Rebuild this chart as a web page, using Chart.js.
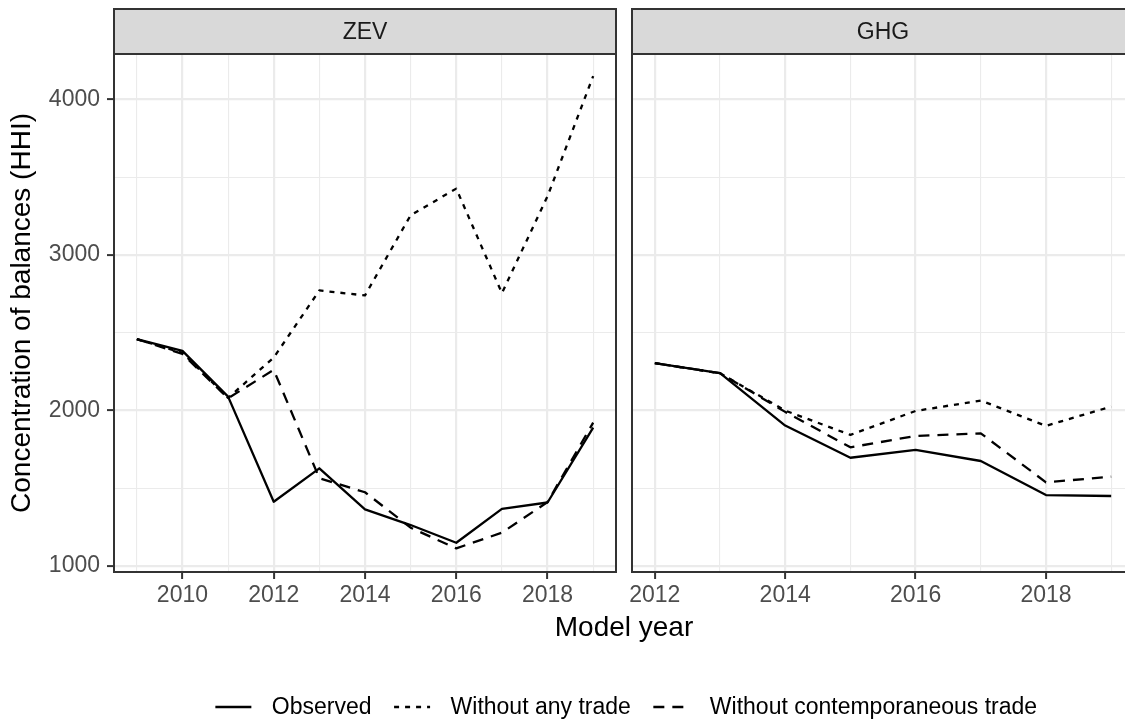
<!DOCTYPE html>
<html>
<head>
<meta charset="utf-8">
<script src="https://cdn.jsdelivr.net/npm/chart.js@4.4.1/dist/chart.umd.min.js"></script>
<style>
  html, body { margin: 0; padding: 0; background: #ffffff; overflow: hidden; }
  #wrap { position: relative; width: 1125px; height: 726px; overflow: hidden; background: #ffffff; }
  canvas { position: absolute; top: 0; }
  #zevChart { left: 0; }
  #ghgChart { left: 620px; }
</style>
</head>
<body>
<div id="wrap">
  <canvas id="zevChart" width="1125" height="726"></canvas>
  <canvas id="ghgChart" width="525" height="726"></canvas>
</div>
<script>
// ---- data -------------------------------------------------------------
const seriesNames = ['Observed', 'Without any trade', 'Without contemporaneous trade'];

const zevYears        = [2009, 2010, 2011, 2012, 2013, 2014, 2015, 2016, 2017, 2018, 2019];
const zevObserved     = [2458, 2382, 2088, 1412, 1627, 1363, 1262, 1148, 1366, 1407, 1889];
const zevNoTrade      = [2458, 2370, 2080, 2339, 2771, 2739, 3255, 3426, 2754, 3377, 4150];
const zevNoContemp    = [2458, 2363, 2078, 2260, 1563, 1473, 1245, 1112, 1213, 1410, 1921];

const ghgYears        = [2012, 2013, 2014, 2015, 2016, 2017, 2018, 2019];
const ghgObserved     = [2303, 2239, 1902, 1695, 1745, 1674, 1455, 1449];
const ghgNoTrade      = [2303, 2239, 1998, 1842, 1996, 2063, 1900, 2024];
const ghgNoContemp    = [2303, 2239, 1990, 1762, 1835, 1852, 1537, 1573];

// axis breaks
const yGridValues     = [1000, 1500, 2000, 2500, 3000, 3500, 4000];
const yTickLabels     = [1000, 2000, 3000, 4000];
const zevGridYears    = [2009, 2010, 2011, 2012, 2013, 2014, 2015, 2016, 2017, 2018, 2019];
const zevTickYears    = [2010, 2012, 2014, 2016, 2018];
const ghgGridYears    = [2012, 2013, 2014, 2015, 2016, 2017, 2018, 2019];
const ghgTickYears    = [2012, 2014, 2016, 2018];

// ---- styling ----------------------------------------------------------
const FONT = "'Liberation Sans', Arial, Helvetica, sans-serif";
Chart.defaults.font.family = FONT;
Chart.defaults.animation = false;

const lineStyles = [
  { borderDash: [] },
  { borderDash: [5, 6] },
  { borderDash: [11, 8] }
];
const LINE_W = 2.3;
const MAJOR_W = 2.2, MINOR_W = 1.1;
const GRID_COLOR = '#EBEBEB';
const DARK = '#333333';

const Y_MIN = 960, Y_MAX = 4292;
const PANEL_TOP = 54, PANEL_BOTTOM = 572;
const ZEV_LEFT = 114, ZEV_RIGHT = 616;
const GHG_OFFSET = 620, GHG_LEFT = 632, GHG_RIGHT = 1134;
const CANVAS_H = 726;

function toPoints(xs, ys) { return xs.map((x, i) => ({ x: x, y: ys[i] })); }

function buildDatasets(xs, seriesList) {
  return seriesList.map((ys, i) => ({
    label: seriesNames[i],
    data: toPoints(xs, ys),
    borderColor: '#000000',
    backgroundColor: '#000000',
    borderWidth: LINE_W,
    borderDash: lineStyles[i].borderDash,
    borderCapStyle: 'butt',
    borderJoinStyle: 'round',
    pointRadius: 0,
    tension: 0,
    fill: false
  }));
}

function xScale(min, max, gridYears, tickYears) {
  return {
    type: 'linear',
    min: min, max: max,
    afterBuildTicks: s => { s.ticks = gridYears.map(v => ({ value: v })); },
    afterFit: s => { s.height = CANVAS_H - PANEL_BOTTOM; s.paddingLeft = 0; s.paddingRight = 0; },
    border: { display: false },
    grid: {
      color: GRID_COLOR,
      lineWidth: c => (c.tick && tickYears.includes(c.tick.value)) ? MAJOR_W : MINOR_W,
      drawTicks: true,
      tickLength: 7,
      tickWidth: 2,
      tickColor: c => (c.tick && tickYears.includes(c.tick.value)) ? DARK : 'rgba(0,0,0,0)'
    },
    ticks: {
      autoSkip: false, maxRotation: 0, minRotation: 0,
      padding: 3,
      color: '#4D4D4D',
      font: { size: 23, family: FONT },
      callback: v => tickYears.includes(v) ? String(v) : ''
    }
  };
}

function yScale(showLabels) {
  return {
    type: 'linear',
    min: Y_MIN, max: Y_MAX,
    afterBuildTicks: s => { s.ticks = yGridValues.map(v => ({ value: v })); },
    afterFit: s => { s.width = showLabels ? ZEV_LEFT : 0; s.paddingTop = 0; s.paddingBottom = 0; },
    border: { display: false },
    grid: {
      color: GRID_COLOR,
      lineWidth: c => (c.tick && yTickLabels.includes(c.tick.value)) ? MAJOR_W : MINOR_W,
      drawTicks: showLabels,
      tickLength: 7,
      tickWidth: 2,
      tickColor: c => (c.tick && yTickLabels.includes(c.tick.value)) ? DARK : 'rgba(0,0,0,0)'
    },
    ticks: {
      display: showLabels,
      padding: 7,
      color: '#4D4D4D',
      font: { size: 23, family: FONT },
      callback: v => yTickLabels.includes(v) ? String(v) : ''
    },
    title: {
      display: showLabels,
      text: 'Concentration of balances (HHI)',
      color: '#000000',
      font: { size: 28, family: FONT },
      padding: { top: 5, bottom: 0 }
    }
  };
}

// Facet strip above each panel plus the dark panel frame
const facetFrame = {
  id: 'facetFrame',
  afterDraw(chart, args, opts) {
    const { ctx, chartArea: a } = chart;
    ctx.save();
    const stripTop = 9, stripH = a.top - stripTop;
    ctx.fillStyle = '#D9D9D9';
    ctx.fillRect(a.left, stripTop, a.right - a.left, stripH);
    ctx.strokeStyle = DARK;
    ctx.lineWidth = 2;
    ctx.strokeRect(a.left, stripTop, a.right - a.left, stripH);
    ctx.fillStyle = '#1A1A1A';
    ctx.font = `23px ${FONT}`;
    ctx.textAlign = 'center';
    ctx.textBaseline = 'middle';
    ctx.fillText(opts.label, (a.left + a.right) / 2, stripTop + stripH / 2 + 1);
    ctx.strokeRect(a.left, a.top, a.right - a.left, a.bottom - a.top);
    ctx.restore();
  }
};

// Shared x title and legend under both panels
const figureText = {
  id: 'figureText',
  afterDraw(chart) {
    const { ctx } = chart;
    const centerX = (ZEV_LEFT + GHG_RIGHT) / 2;
    ctx.save();
    ctx.fillStyle = '#000000';
    ctx.font = `28px ${FONT}`;
    ctx.textAlign = 'center';
    ctx.textBaseline = 'alphabetic';
    ctx.fillText('Model year', centerX, 636);

    const KEY = 45, INSET = 4.5, GAP = 16, ITEM_GAP = 18, LEG_Y = 707;
    ctx.font = `23px ${FONT}`;
    const items = chart.data.datasets.map(d => ({ label: d.label, dash: d.borderDash, w: d.borderWidth }));
    const widths = items.map(it => ctx.measureText(it.label).width);
    const total = items.length * (KEY + GAP) + widths.reduce((s, w) => s + w, 0) + ITEM_GAP * (items.length - 1);
    let x = centerX - total / 2;
    ctx.textAlign = 'left';
    ctx.textBaseline = 'middle';
    items.forEach((it, i) => {
      ctx.beginPath();
      ctx.setLineDash(it.dash);
      ctx.lineWidth = it.w;
      ctx.lineCap = 'butt';
      ctx.strokeStyle = '#000000';
      ctx.moveTo(x + INSET, LEG_Y);
      ctx.lineTo(x + KEY - INSET, LEG_Y);
      ctx.stroke();
      ctx.setLineDash([]);
      ctx.fillStyle = '#000000';
      ctx.fillText(it.label, x + KEY + GAP, LEG_Y + 1);
      x += KEY + GAP + widths[i] + ITEM_GAP;
    });
    ctx.restore();
  }
};

const baseOptions = {
  responsive: false,
  maintainAspectRatio: false,
  animation: false,
  events: []
};

new Chart(document.getElementById('zevChart'), {
  type: 'line',
  data: { datasets: buildDatasets(zevYears, [zevObserved, zevNoTrade, zevNoContemp]) },
  options: Object.assign({}, baseOptions, {
    layout: { padding: { top: PANEL_TOP, left: 0, right: 1125 - ZEV_RIGHT, bottom: 0 } },
    scales: {
      x: xScale(2008.5, 2019.5, zevGridYears, zevTickYears),
      y: yScale(true)
    },
    plugins: { legend: { display: false }, tooltip: { enabled: false }, facetFrame: { label: 'ZEV' } }
  }),
  plugins: [facetFrame, figureText]
});

new Chart(document.getElementById('ghgChart'), {
  type: 'line',
  data: { datasets: buildDatasets(ghgYears, [ghgObserved, ghgNoTrade, ghgNoContemp]) },
  options: Object.assign({}, baseOptions, {
    layout: { padding: { top: PANEL_TOP, left: GHG_LEFT - GHG_OFFSET, right: 525 - (GHG_RIGHT - GHG_OFFSET), bottom: 0 } },
    scales: {
      x: xScale(2011.65, 2019.35, ghgGridYears, ghgTickYears),
      y: yScale(false)
    },
    plugins: { legend: { display: false }, tooltip: { enabled: false }, facetFrame: { label: 'GHG' } }
  }),
  plugins: [facetFrame]
});
</script>
</body>
</html>
